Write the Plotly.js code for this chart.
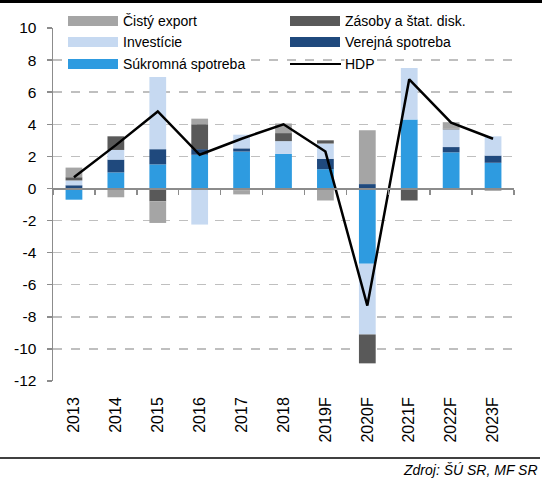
<!DOCTYPE html>
<html>
<head>
<meta charset="utf-8">
<script src="https://cdn.plot.ly/plotly-3.0.1.min.js"></script>
<style>
	html, body { margin: 0; padding: 0; background: #fff; }
	#chart { width: 542px; height: 480px; }
</style>
</head>
<body>
<div id="chart"></div>
<script>
	'use strict';

	// categories
	const years = ['2013', '2014', '2015', '2016', '2017', '2018', '2019F', '2020F', '2021F', '2022F', '2023F'];

	// contributions to GDP growth (p.b.)
	const sukromna    = [-0.7, 1.0, 1.5, 2.1, 2.3, 2.15, 1.2, -4.7, 4.3, 2.25, 1.6];
	const verejna     = [0.2, 0.8, 0.95, 0.35, 0.2, 0, 0.65, 0.27, 0, 0.33, 0.45];
	const investicie  = [0.3, 0.6, 4.5, -2.25, 0.85, 0.8, 0.95, -4.4, 3.2, 1.1, 1.2];
	const zasoby      = [0.2, 0.85, -0.8, 1.55, -0.12, 0.5, 0.2, -1.8, -0.75, 0.05, 0];
	const cistyExport = [0.6, -0.55, -1.35, 0.35, -0.25, 0.6, -0.75, 3.35, 0, 0.4, -0.15];
	const hdp         = [0.7, 2.7, 4.8, 2.1, 3.1, 4.0, 2.3, -7.3, 6.8, 4.1, 3.1];

	const yTicks = [-12, -10, -8, -6, -4, -2, 0, 2, 4, 6, 8, 10];

	const font = 'Liberation Sans, Arial, sans-serif';
	const axisGrey = '#8c8c8c';

	/**
	* bar series, in stacking order (from zero outwards)
	*/
	const barSeries = [
		{ name: 'Súkromná spotreba', y: sukromna, color: '#2e9be0' },
		{ name: 'Verejná spotreba', y: verejna, color: '#1f497d' },
		{ name: 'Investície', y: investicie, color: '#c6d9f1' },
		{ name: 'Zásoby a štat. disk.', y: zasoby, color: '#595959' },
		{ name: 'Čistý export', y: cistyExport, color: '#a5a5a5' },
	];

	const data = barSeries.map( s => ({
		type: 'bar',
		x: years,
		y: s.y,
		name: s.name,
		marker: { color: s.color, line: { width: 0 } },
		showlegend: false,
		hoverinfo: 'skip',
	}));

	// GDP line sits on the overlaying axis (drawn on top)
	data.push({
		type: 'scatter',
		mode: 'lines',
		x: years,
		y: hdp,
		xaxis: 'x2',
		name: 'HDP',
		line: { color: '#000', width: 2.5 },
		showlegend: false,
		hoverinfo: 'skip',
	});

	/**
	* pixel helpers -> paper coords (plot area 53..514 x 28..381)
	*/
	const M = { l: 53, r: 28, t: 28, b: 99 };
	const W = 542 - M.l - M.r;
	const H = 480 - M.t - M.b;
	const px = x => (x - M.l) / W;
	const py = y => (480 - M.b - y) / H;

	// hand made legend (wide swatches like the original)
	const legendItems = [
		{ name: 'Čistý export', color: '#a5a5a5', col: 0, row: 0 },
		{ name: 'Zásoby a štat. disk.', color: '#595959', col: 1, row: 0 },
		{ name: 'Investície', color: '#c6d9f1', col: 0, row: 1 },
		{ name: 'Verejná spotreba', color: '#1f497d', col: 1, row: 1 },
		{ name: 'Súkromná spotreba', color: '#2e9be0', col: 0, row: 2 },
		{ name: 'HDP', color: '#000', col: 1, row: 2, line: true },
	];
	const colX = [68, 290];
	const rowY = [21, 42, 64];

	const shapes = [];
	const annotations = [];

	legendItems.forEach( item => {
		const x0 = colX[ item.col ];
		const yc = rowY[ item.row ];
		if( item.line ){
			shapes.push({
				type: 'line', xref: 'paper', yref: 'paper', layer: 'above',
				x0: px(x0), x1: px(x0 + 51), y0: py(yc), y1: py(yc),
				line: { color: item.color, width: 2 },
			});
		} else {
			shapes.push({
				type: 'rect', xref: 'paper', yref: 'paper', layer: 'above',
				x0: px(x0), x1: px(x0 + 50), y0: py(yc - 5), y1: py(yc + 5),
				fillcolor: item.color, line: { width: 0 },
			});
		}
		annotations.push({
			xref: 'paper', yref: 'paper',
			x: px(x0 + 54), y: py(yc),
			xanchor: 'left', yanchor: 'middle',
			text: item.name, showarrow: false,
			bgcolor: '#fff', borderpad: 0,
			font: { family: font, size: 14, color: '#000' },
		});
	});

	// frame lines of the figure
	shapes.push({
		type: 'line', xref: 'paper', yref: 'paper',
		x0: px(0), x1: px(542), y0: py(1.5), y1: py(1.5),
		line: { color: '#000', width: 3 },
	});
	shapes.push({
		type: 'line', xref: 'paper', yref: 'paper',
		x0: px(0), x1: px(540), y0: py(458), y1: py(458),
		line: { color: '#000', width: 1.5 },
	});

	annotations.push({
		xref: 'paper', yref: 'paper',
		x: px(540), y: py(470),
		xanchor: 'right', yanchor: 'middle',
		text: '<i>Zdroj: ŠÚ SR, MF SR</i>', showarrow: false,
		font: { family: font, size: 14, color: '#000' },
	});

	const xRange = [-0.5, years.length - 0.5];
	const yRange = [-12, 10];

	const layout = {
		width: 542,
		height: 480,
		margin: M,
		paper_bgcolor: '#fff',
		plot_bgcolor: '#fff',
		barmode: 'relative',
		bargap: 0.6,
		showlegend: false,
		font: { family: font, color: '#000' },
		xaxis: {
			type: 'category',
			categoryarray: years,
			range: xRange,
			showline: false,
			showgrid: false,
			zeroline: false,
			ticks: '',
			tickangle: -90,
			ticklabelstandoff: 12,
			tickfont: { family: font, size: 16, color: '#000' },
			fixedrange: true,
		},
		// decorative axis along y = 0 with ticks between categories
		xaxis2: {
			type: 'category',
			categoryarray: years,
			range: xRange,
			overlaying: 'x',
			anchor: 'free',
			position: (0 - yRange[0]) / (yRange[1] - yRange[0]),
			showline: true,
			linecolor: axisGrey,
			linewidth: 1.5,
			ticks: 'outside',
			tickson: 'boundaries',
			ticklen: 5,
			tickwidth: 1.5,
			tickcolor: axisGrey,
			showticklabels: false,
			showgrid: false,
			zeroline: false,
			fixedrange: true,
		},
		yaxis: {
			range: yRange,
			tickvals: yTicks,
			ticktext: yTicks.map( String ),
			showline: true,
			linecolor: axisGrey,
			linewidth: 1.5,
			ticks: 'outside',
			ticklen: 5,
			tickwidth: 1.5,
			tickcolor: axisGrey,
			ticklabelstandoff: 7,
			tickfont: { family: font, size: 15.5, color: '#000' },
			showgrid: true,
			gridcolor: '#bfbfbf',
			gridwidth: 1.5,
			griddash: 'dash',
			zeroline: false,
			fixedrange: true,
		},
		shapes,
		annotations,
	};

	Plotly.newPlot('chart', data, layout, { displayModeBar: false, staticPlot: true });
</script>
</body>
</html>
